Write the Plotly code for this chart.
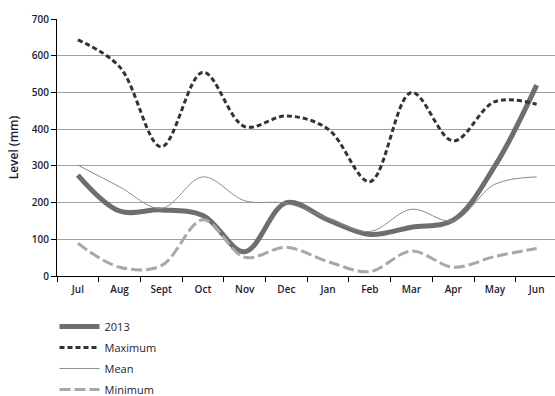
import plotly.graph_objects as go

months = ["Jul", "Aug", "Sept", "Oct", "Nov", "Dec", "Jan", "Feb", "Mar", "Apr", "May", "Jun"]
level_2013 = [275, 177, 180, 165, 66, 200, 153, 113, 133, 152, 300, 520]
level_max = [643, 570, 352, 555, 407, 436, 400, 257, 500, 368, 475, 468]
level_mean = [302, 243, 184, 270, 205, 198, 157, 121, 182, 150, 250, 270]
level_min = [89, 24, 28, 153, 51, 78, 39, 12, 68, 24, 53, 75]
y_ticks = [0, 100, 200, 300, 400, 500, 600, 700]

font_family = "Open Sans, Noto Sans, sans-serif"
text_color = "#1c1c30"

fig = go.Figure()
fig.add_trace(go.Scatter(x=months, y=level_2013, name="2013", mode="lines", legendgroup="a",
                         line=dict(color="#6e6e6e", width=5, shape="spline", smoothing=1.0)))
fig.add_trace(go.Scatter(x=months, y=level_max, name="Maximum", mode="lines", legendgroup="b",
                         line=dict(color="#333333", width=3, dash="5px,3px", shape="spline", smoothing=1.0)))
fig.add_trace(go.Scatter(x=months, y=level_mean, name="Mean", mode="lines", legendgroup="c",
                         line=dict(color="#8a8a8a", width=1, shape="spline", smoothing=1.0)))
fig.add_trace(go.Scatter(x=months, y=level_min, name="Minimum", mode="lines", legendgroup="d",
                         line=dict(color="#a8a8a8", width=3, dash="11px,4px", shape="spline", smoothing=1.0)))

fig.update_layout(
    width=555, height=396,
    margin=dict(l=57, r=0, t=19, b=120, autoexpand=False),
    paper_bgcolor="white", plot_bgcolor="white",
    font=dict(family=font_family, size=10, color=text_color),
    showlegend=True,
    legend=dict(x=-0.005, y=-0.14, xanchor="left", yanchor="top", orientation="v",
                font=dict(size=11, color=text_color), bgcolor="rgba(0,0,0,0)",
                tracegroupgap=2, itemwidth=40),
)
fig.update_xaxes(
    type="category", range=[-0.5, 11.44],
    showline=True, linecolor="black", linewidth=1,
    ticks="outside", tickson="boundaries", ticklen=5, tickcolor="black",
    showgrid=False, zeroline=False, ticklabelstandoff=4,
    tickfont=dict(size=10, color=text_color, weight=600),
)
fig.update_yaxes(
    range=[0, 700], tickvals=y_ticks,
    showline=True, linecolor="black", linewidth=1,
    ticks="outside", ticklen=5, tickcolor="black",
    showgrid=True, gridcolor="#a0a0a0", gridwidth=1, zeroline=False,
    tickfont=dict(size=10, color=text_color, weight=600),
    title=dict(text="Level (mm)", font=dict(size=12, color=text_color, weight=600), standoff=10),
)

fig.write_html("out.html")
